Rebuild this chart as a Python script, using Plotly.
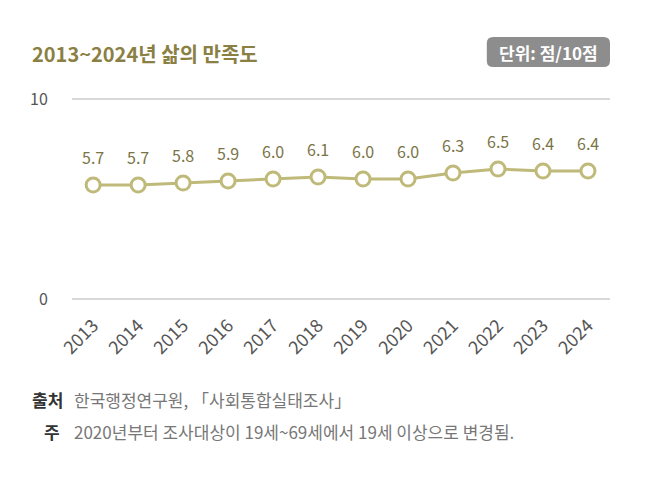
import plotly.graph_objects as go

# 데이터
years = ["2013", "2014", "2015", "2016", "2017", "2018",
         "2019", "2020", "2021", "2022", "2023", "2024"]
satisfaction = [5.7, 5.7, 5.8, 5.9, 6.0, 6.1, 6.0, 6.0, 6.3, 6.5, 6.4, 6.4]
y_ticks = [0, 10]

title_text = "2013~2024년 삶의 만족도"
unit_text = "단위: 점/10점"
source_text = "한국행정연구원, 「사회통합실태조사」"
note_text = "2020년부터 조사대상이 19세~69세에서 19세 이상으로 변경됨."

FONT = "Noto Sans CJK KR"
OLIVE = "#bfba7a"
LABEL = "#7a7447"

fig = go.Figure()

fig.add_trace(go.Scatter(
    x=list(range(len(years))),
    y=satisfaction,
    mode="lines+markers",
    line=dict(color=OLIVE, width=3),
    marker=dict(size=14, color="white", line=dict(color=OLIVE, width=3)),
    text=years,
    hovertemplate="%{text}: %{y}<extra></extra>",
    showlegend=False,
))

# 값 라벨
for i, v in enumerate(satisfaction):
    fig.add_annotation(
        x=i, y=v, text=f"{v:.1f}", showarrow=False,
        yshift=28, font=dict(family=FONT, size=16, color=LABEL),
    )

# 제목 (plot 영역 204px 기준 paper 좌표)
fig.add_annotation(
    xref="paper", yref="paper", x=-0.078, y=1.215, xanchor="left", yanchor="middle",
    text=f"<b>{title_text}</b>", showarrow=False,
    font=dict(family=FONT, size=20, color="#8a8044"),
)

# 단위 배지 (둥근 사각형)
x0, x1, y0, y1 = 0.771, 1.0, 1.147, 1.294
rx, ry = 0.012, 0.031
badge = (f"M {x0+rx},{y0} L {x1-rx},{y0} Q {x1},{y0} {x1},{y0+ry} "
         f"L {x1},{y1-ry} Q {x1},{y1} {x1-rx},{y1} L {x0+rx},{y1} "
         f"Q {x0},{y1} {x0},{y1-ry} L {x0},{y0+ry} Q {x0},{y0} {x0+rx},{y0} Z")
fig.add_shape(
    type="path", xref="paper", yref="paper", path=badge,
    fillcolor="#8d8d8d", line=dict(width=0), layer="above",
)
fig.add_annotation(
    xref="paper", yref="paper", x=(x0 + x1) / 2, y=(y0 + y1) / 2,
    xanchor="center", yanchor="middle",
    text=f"<b>{unit_text}</b>", showarrow=False,
    font=dict(family=FONT, size=17, color="white"),
)

# 출처 / 주
fig.add_annotation(
    xref="paper", yref="paper", x=-0.078, y=-0.485, xanchor="left", yanchor="middle",
    text="<b>출처</b>", showarrow=False,
    font=dict(family=FONT, size=17, color="#333333"),
)
fig.add_annotation(
    xref="paper", yref="paper", x=0.0, y=-0.485, xanchor="left", yanchor="middle",
    text=source_text, showarrow=False,
    font=dict(family=FONT, size=17, color="#777777"),
)
fig.add_annotation(
    xref="paper", yref="paper", x=-0.019, y=-0.642, xanchor="right", yanchor="middle",
    text="<b>주</b>", showarrow=False,
    font=dict(family=FONT, size=17, color="#333333"),
)
fig.add_annotation(
    xref="paper", yref="paper", x=0.0, y=-0.642, xanchor="left", yanchor="middle",
    text=note_text, showarrow=False,
    font=dict(family=FONT, size=17, color="#777777"),
)

fig.update_layout(
    width=650, height=480,
    margin=dict(l=64, r=48, t=89, b=187),
    paper_bgcolor="white", plot_bgcolor="white",
    font=dict(family=FONT, color="#444444"),
)

fig.update_xaxes(
    range=[-0.47, 11.49],
    tickvals=list(range(len(years))), ticktext=years,
    showgrid=False, showline=False, zeroline=False,
    tickangle=-45, tickfont=dict(family=FONT, size=18, color="#555555"),
    ticks="outside", ticklen=6, tickcolor="rgba(0,0,0,0)",
)
fig.update_yaxes(
    range=[-0.1, 10.1], tickvals=y_ticks,
    showgrid=True, gridcolor="#d9d9d9", gridwidth=1.5,
    zeroline=False, showline=False,
    tickfont=dict(family=FONT, size=16, color="#555555"),
    ticks="outside", ticklen=20, tickcolor="rgba(0,0,0,0)",
)

fig.write_html("out.html")
